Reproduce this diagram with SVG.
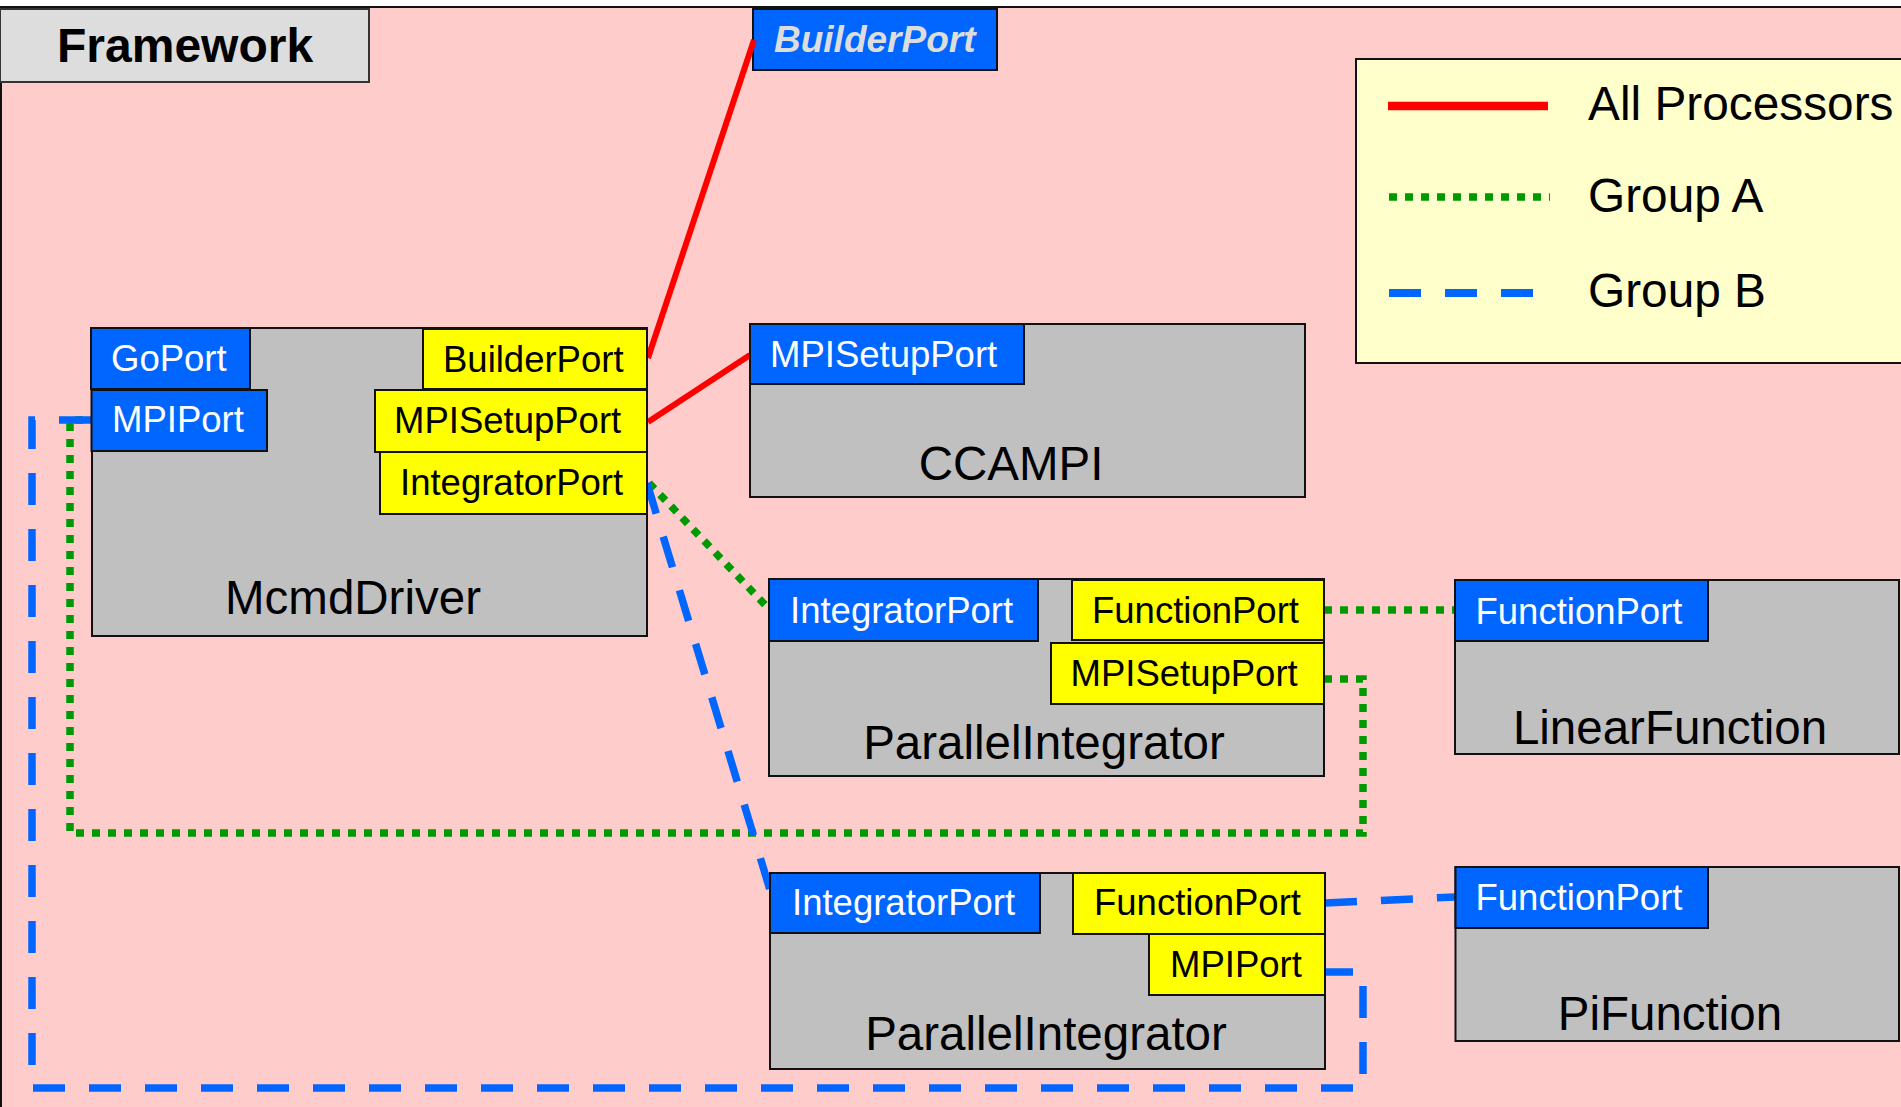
<svg xmlns="http://www.w3.org/2000/svg" width="1901" height="1107" viewBox="0 0 1901 1107">
  <style>
    text { font-family: "Liberation Sans", Arial, Helvetica, sans-serif; }
    .comp { fill: #c0c0c0; stroke: #111; stroke-width: 2; }
    .uses { fill: #0066ff; stroke: #111; stroke-width: 2; }
    .provides { fill: #ffff00; stroke: #111; stroke-width: 2; }
    .utxt { font-size: 36.5px; fill: #ffffff; }
    .ptxt { font-size: 36.5px; fill: #000000; }
    .name { font-size: 47.5px; fill: #000000; text-anchor: middle; }
    .legtxt { font-size: 47.8px; fill: #000000; }
    .all { stroke: #ff0000; stroke-width: 6; fill: none; }
    .grpA { stroke: #009900; stroke-width: 7.5; stroke-dasharray: 8 8; fill: none; }
    .grpB { stroke: #0066ff; stroke-width: 7.5; stroke-dasharray: 32 24; fill: none; }
  </style>

  <rect x="0" y="0" width="1901" height="1107" fill="#ffffff"/>

  <!-- framework area -->
  <g id="framework">
    <rect x="1" y="7" width="1960" height="1160" fill="#ffcccc" stroke="#111" stroke-width="2"/>
    <rect x="0" y="9" width="369" height="73" fill="#dddddd" stroke="#333" stroke-width="2"/>
    <text x="57" y="62" font-size="48" font-weight="bold" fill="#000">Framework</text>
  </g>

  <!-- builder service port of the framework -->
  <g id="framework-builderport">
    <rect class="uses" x="753" y="9" width="244" height="61"/>
    <text x="774" y="52" font-size="37" font-weight="bold" font-style="italic" fill="#dddddd">BuilderPort</text>
  </g>

  <!-- legend -->
  <g id="legend">
    <rect x="1356" y="59" width="600" height="304" fill="#ffffcc" stroke="#111" stroke-width="2"/>
    <line x1="1388" y1="106" x2="1548" y2="106" stroke="#ff0000" stroke-width="8.5"/>
    <line x1="1389" y1="197" x2="1550" y2="197" stroke="#009900" stroke-width="7.5" stroke-dasharray="8 8"/>
    <line x1="1389" y1="293" x2="1533" y2="293" stroke="#0066ff" stroke-width="8" stroke-dasharray="32 24"/>
    <text class="legtxt" x="1588" y="120">All Processors</text>
    <text class="legtxt" x="1588" y="212">Group A</text>
    <text class="legtxt" x="1588" y="307">Group B</text>
  </g>

  <!-- connections -->
  <g id="connectors">
    <line class="all" x1="754" y1="40" x2="648" y2="358"/>
    <line class="all" x1="648" y1="422" x2="750" y2="355"/>
    <line class="grpA" x1="649" y1="483" x2="769" y2="609"/>
    <line class="grpA" x1="1324" y1="610" x2="1455" y2="610"/>
    <path class="grpA" d="M1324,679 H1363 V833 H70 V420 H91"/>
    <line class="grpB" x1="647" y1="483" x2="770" y2="890"/>
    <line class="grpB" x1="1325" y1="903" x2="1455" y2="897"/>
    <path class="grpB" d="M91,420 H32 V1088 H1363 V972 H1325"/>
  </g>

  <g id="mcmddriver">
    <rect class="comp" x="92" y="328" width="555" height="308"/>
    <rect class="uses" x="91" y="328" width="159" height="61"/>
    <text class="utxt" x="111" y="371">GoPort</text>
    <rect class="uses" x="91.5" y="390" width="175.5" height="61"/>
    <text class="utxt" x="112" y="432">MPIPort</text>
    <rect class="provides" x="423" y="329" width="224" height="60"/>
    <text class="ptxt" x="443" y="372">BuilderPort</text>
    <rect class="provides" x="375" y="390" width="272" height="62"/>
    <text class="ptxt" x="394" y="433">MPISetupPort</text>
    <rect class="provides" x="380" y="452" width="267" height="62"/>
    <text class="ptxt" x="400" y="495">IntegratorPort</text>
    <text class="name" x="353" y="614">McmdDriver</text>
  </g>

  <g id="ccampi">
    <rect class="comp" x="750" y="324" width="555" height="173"/>
    <rect class="uses" x="750" y="324" width="274" height="60"/>
    <text class="utxt" x="770" y="367">MPISetupPort</text>
    <text class="name" x="1011" y="480">CCAMPI</text>
  </g>

  <g id="parallelintegrator-a">
    <rect class="comp" x="769" y="579" width="555" height="197"/>
    <rect class="uses" x="769" y="579" width="269" height="62"/>
    <text class="utxt" x="790" y="622.5">IntegratorPort</text>
    <rect class="provides" x="1072" y="580" width="252" height="60"/>
    <text class="ptxt" x="1092" y="623">FunctionPort</text>
    <rect class="provides" x="1051" y="643" width="273" height="61"/>
    <text class="ptxt" x="1070.5" y="686">MPISetupPort</text>
    <text class="name" x="1044" y="759">ParallelIntegrator</text>
  </g>

  <g id="linearfunction">
    <rect class="comp" x="1455" y="580" width="444" height="174"/>
    <rect class="uses" x="1455" y="580" width="253" height="61"/>
    <text class="utxt" x="1475.5" y="623.5">FunctionPort</text>
    <text class="name" x="1670" y="743.5">LinearFunction</text>
  </g>

  <g id="parallelintegrator-b">
    <rect class="comp" x="770" y="873" width="555" height="196"/>
    <rect class="uses" x="770" y="873" width="270" height="60"/>
    <text class="utxt" x="792" y="915">IntegratorPort</text>
    <rect class="provides" x="1073" y="873" width="252" height="61"/>
    <text class="ptxt" x="1094" y="915">FunctionPort</text>
    <rect class="provides" x="1149" y="934" width="176" height="61"/>
    <text class="ptxt" x="1170" y="977">MPIPort</text>
    <text class="name" x="1046" y="1050">ParallelIntegrator</text>
  </g>

  <g id="pifunction">
    <rect class="comp" x="1455.5" y="867" width="443.5" height="174"/>
    <rect class="uses" x="1455.5" y="867" width="252.5" height="61"/>
    <text class="utxt" x="1475.5" y="909.5">FunctionPort</text>
    <text class="name" x="1670" y="1030">PiFunction</text>
  </g>
</svg>
